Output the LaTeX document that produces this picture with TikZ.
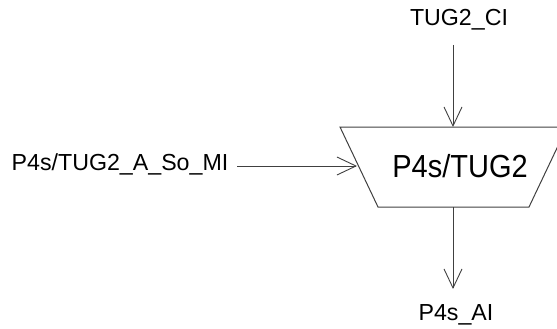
\documentclass[tikz,border=0pt]{standalone}
\usepackage{fontspec}
\setmainfont{Liberation Sans}
\usetikzlibrary{arrows.meta}
\begin{document}
\begin{tikzpicture}[x=1pt,y=-1pt,
  conn/.style={draw=black!75,line width=0.9pt,-{Straight Barb[length=19pt,width=18pt,line width=0.9pt]}},
  edge/.style={draw=black!75,line width=1pt},
  lbl/.style={inner sep=0pt,font=\fontsize{23.2}{26}\selectfont},
  big/.style={inner sep=0pt,font=\fontsize{29}{32}\selectfont}]
\useasboundingbox (0,0) rectangle (557,329);
\clip (0,0) rectangle (557,329);
% trapezoid
\coordinate (tl) at (340,127);
\coordinate (tr) at (567,127);
\coordinate (br) at (529,207);
\coordinate (bl) at (378,207);
\draw[edge] (tl) -- (tr) -- (br) -- (bl) -- cycle;
\node[big,yscale=1.1] (main) at (460,166) {P4s/TUG2};
% ports
\coordinate (topin) at (453,127);
\coordinate (botout) at (453,207);
\coordinate (leftin) at (357,166);
\coordinate (botend) at (453,289);
\node[lbl] (ci) at (459,20) {TUG2\_CI};
\node[lbl] (ai) at (456,315) {P4s\_AI};
\node[lbl] (mi) at (120,164) {P4s/TUG2\_A\_So\_MI};
\coordinate (cistart) at (453,45);
\coordinate (mistart) at (237,166);
\draw[conn] (cistart) -- (topin);
\draw[conn] (botout) -- (botend);
\draw[conn] (mistart) -- (leftin);
\end{tikzpicture}
\end{document}
